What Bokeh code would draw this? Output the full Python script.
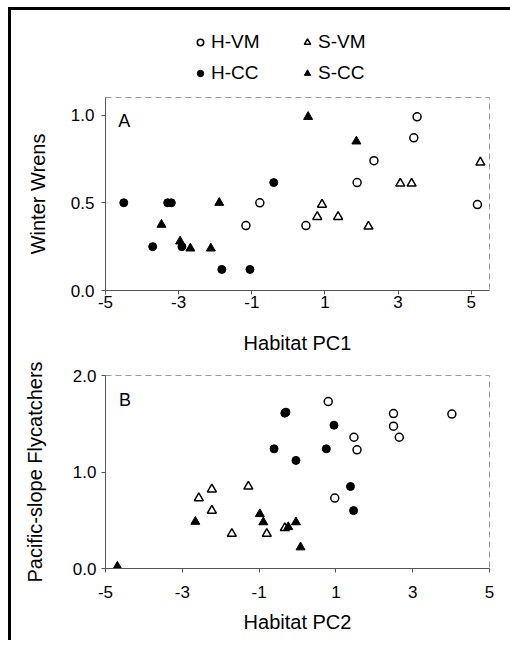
from bokeh.plotting import figure
from bokeh.layouts import column, row
from bokeh.models import Range1d, FixedTicker, NumeralTickFormatter, Legend, LegendItem, Label, Spacer
from bokeh.embed import file_html
from bokeh.resources import INLINE

groups = ["H-VM", "H-CC", "S-VM", "S-CC"]

# Panel A: Winter Wrens vs Habitat PC1
a_hvm_x = [-1.16, -0.78, 0.48, 1.88, 2.34, 3.43, 3.52, 5.17]
a_hvm_y = [0.37, 0.50, 0.37, 0.615, 0.74, 0.87, 0.99, 0.49]
a_hcc_x = [-4.50, -3.30, -3.20, -3.71, -2.91, -1.82, -1.05, -0.40]
a_hcc_y = [0.50, 0.50, 0.50, 0.25, 0.25, 0.12, 0.12, 0.615]
a_svm_x = [0.79, 0.92, 1.36, 2.19, 3.06, 3.37, 5.25]
a_svm_y = [0.42, 0.49, 0.42, 0.365, 0.61, 0.61, 0.73]
a_scc_x = [-3.47, -2.96, -2.68, -2.12, -1.89, 0.54, 1.86]
a_scc_y = [0.375, 0.28, 0.24, 0.24, 0.50, 0.99, 0.85]

# Panel B: Pacific-slope Flycatchers vs Habitat PC2
b_hvm_x = [0.80, 0.97, 1.47, 1.55, 2.50, 2.50, 2.65, 4.02]
b_hvm_y = [1.73, 0.73, 1.36, 1.23, 1.605, 1.475, 1.36, 1.60]
b_hcc_x = [-0.33, -0.30, 0.95, -0.61, 0.75, -0.04, 1.38, 1.46]
b_hcc_y = [1.61, 1.62, 1.485, 1.24, 1.24, 1.12, 0.85, 0.60]
b_svm_x = [-2.57, -2.23, -2.23, -1.71, -1.28, -0.80, -0.33]
b_svm_y = [0.73, 0.82, 0.60, 0.36, 0.85, 0.36, 0.42]
b_scc_x = [-4.69, -2.66, -0.98, -0.89, -0.24, -0.04, 0.08]
b_scc_y = [0.02, 0.485, 0.565, 0.48, 0.43, 0.48, 0.22]

x_ticks = [-5, -3, -1, 1, 3, 5]
a_y_ticks = [0.0, 0.5, 1.0]
b_y_ticks = [0.0, 1.0, 2.0]

FONT = "Liberation Sans"
AXC = "#555555"

MARKERS = [
    dict(marker="circle", size=8, fill_color="white", line_color="black", line_width=1.5),
    dict(marker="circle", size=8, fill_color="black", line_color="black", line_width=1),
    dict(marker="triangle", size=9, fill_color="white", line_color="black", line_width=1.5),
    dict(marker="triangle", size=9, fill_color="black", line_color="black", line_width=1),
]

A_SERIES = [(a_hvm_x, a_hvm_y), (a_hcc_x, a_hcc_y), (a_svm_x, a_svm_y), (a_scc_x, a_scc_y)]
B_SERIES = [(b_hvm_x, b_hvm_y), (b_hcc_x, b_hcc_y), (b_svm_x, b_svm_y), (b_scc_x, b_scc_y)]


def style(p, xlabel, ylabel, yticks, x_tick_standoff, x_label_standoff, y_tick_standoff, y_label_standoff):
    p.grid.visible = False
    p.outline_line_color = "#9a9a9a"
    p.outline_line_dash = "6 4"
    p.outline_line_width = 1
    p.background_fill_color = "white"
    p.border_fill_color = "white"
    for ax in (p.xaxis[0], p.yaxis[0]):
        ax.axis_line_color = AXC
        ax.axis_line_width = 1
        ax.major_tick_line_color = AXC
        ax.major_tick_in = 0
        ax.major_tick_out = 4
        ax.minor_tick_line_color = None
        ax.major_label_text_font = FONT
        ax.major_label_text_font_size = "17px"
        ax.major_label_text_color = "black"
        ax.axis_label_text_font = FONT
        ax.axis_label_text_font_size = "20px"
        ax.axis_label_text_font_style = "normal"
        ax.axis_label_text_color = "black"
    p.xaxis.ticker = FixedTicker(ticks=x_ticks)
    p.xaxis.major_label_overrides = {t: str(t) for t in x_ticks}
    p.yaxis.ticker = FixedTicker(ticks=yticks)
    p.yaxis.formatter = NumeralTickFormatter(format="0.0")
    p.xaxis.axis_label = xlabel
    p.yaxis.axis_label = ylabel
    p.xaxis.major_label_standoff = x_tick_standoff
    p.xaxis.axis_label_standoff = x_label_standoff
    p.yaxis.major_label_standoff = y_tick_standoff
    p.yaxis.axis_label_standoff = y_label_standoff


def add_points(p, series):
    return [p.scatter(xs, ys, **MARKERS[i]) for i, (xs, ys) in enumerate(series)]


# Legend strip (own figure so that the legend is not clipped); its renderers
# hold panel A's data but the strip's y range keeps the points out of view.
pL = figure(width=490, height=82, x_range=Range1d(-5, 5.5), y_range=Range1d(10, 11),
            output_backend="svg", toolbar_location=None,
            x_axis_location=None, y_axis_location=None,
            min_border_left=0, min_border_right=0, min_border_top=0, min_border_bottom=0)
pL.grid.visible = False
pL.outline_line_color = None
pL.border_fill_color = "white"
rL = add_points(pL, A_SERIES)
legend = Legend(
    items=[LegendItem(label=groups[i], renderers=[rL[i]]) for i in range(4)],
    ncols=2, orientation="vertical", location=(87, 8),
    label_text_font=FONT, label_text_font_size="19px", label_text_color="black",
    glyph_width=16, glyph_height=20, label_height=20, label_width=79,
    label_standoff=3, spacing=9, padding=0, margin=0,
    border_line_color=None, background_fill_alpha=0,
)
pL.add_layout(legend, "center")

pA = figure(width=490, height=268, x_range=Range1d(-5, 5.5), y_range=Range1d(0, 1.1),
            output_backend="svg", toolbar_location=None,
            min_border_left=94, min_border_right=10, min_border_top=5, min_border_bottom=70)
style(pA, "Habitat PC1", "Winter Wrens", a_y_ticks, 1, 21, 7, 19)
add_points(pA, A_SERIES)
pA.add_layout(Label(x=-4.65, y=0.965, text="A", text_font=FONT, text_font_size="18px",
                    text_baseline="middle", text_align="left", text_color="black"))

pB = figure(width=490, height=280, x_range=Range1d(-5, 5), y_range=Range1d(0, 2.0),
            output_backend="svg", toolbar_location=None,
            min_border_left=92, min_border_right=12, min_border_top=15, min_border_bottom=72)
style(pB, "Habitat PC2", "Pacific-slope Flycatchers", b_y_ticks, 13, 10, 5, 24)
add_points(pB, B_SERIES)
pB.add_layout(Label(x=-4.65, y=1.75, text="B", text_font=FONT, text_font_size="18px",
                    text_baseline="middle", text_align="left", text_color="black"))

top_bar = Spacer(width=502, height=3, styles={"background-color": "black"})
left_bar = Spacer(width=3, height=630, styles={"background-color": "black"})

layout = column(
    Spacer(width=510, height=7),
    row(Spacer(width=8, height=3), top_bar),
    row(Spacer(width=8, height=630), left_bar, column(pL, pA, pB)),
)

with open("out.html", "w") as f:
    f.write(file_html(layout, INLINE))
